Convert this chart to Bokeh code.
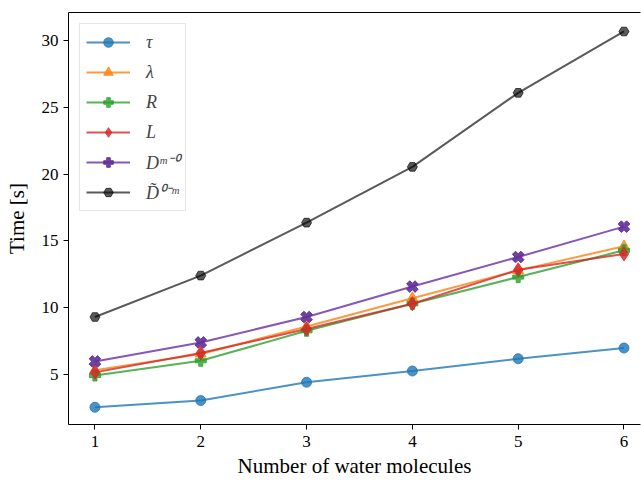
from bokeh.plotting import figure
from bokeh.models import Range1d, LinearAxis, Legend, LegendItem, FixedTicker, ColumnDataSource
from bokeh.embed import file_html
from bokeh.resources import INLINE

# ---- data ----
n_water = [1, 2, 3, 4, 5, 6]
tau = [2.56, 3.06, 4.43, 5.27, 6.19, 6.99]
lam = [5.32, 6.55, 8.60, 10.72, 12.80, 14.60]
R = [4.93, 6.04, 8.28, 10.30, 12.30, 14.30]
L = [5.17, 6.62, 8.41, 10.30, 12.84, 14.03]
D_m0 = [5.99, 7.41, 9.31, 11.59, 13.80, 16.07]
Dt_0m = [9.31, 12.41, 16.37, 20.54, 26.08, 30.67]

labels = ["τ", "λ", "R", "L", "Dᵐ⁻⁰", "D̃⁰⁻ᵐ"]
x_ticks = [1, 2, 3, 4, 5, 6]
y_ticks = [5, 10, 15, 20, 25, 30]

series = [tau, lam, R, L, D_m0, Dt_0m]
line_colors = ["#1f77b4", "#ff7f0e", "#2ca02c", "#d62728", "#7a45b0", "#000000"]
mark_colors = ["#1f77b4", "#ff7f0e", "#2ca02c", "#d62728", "#5e2d96", "#000000"]
alphas = [0.8, 0.8, 0.8, 0.8, 0.9, 0.65]
markers = ["circle", "triangle", "plus", "diamond", "plus", "hex"]
angles = [0, 0, 0, 0, 0.785398, 0]
sizes = [10, 11, 11, 14, 12, 10]

FONT = "Liberation Serif"

p = figure(width=641, height=480, output_backend="svg", toolbar_location=None,
           x_range=Range1d(0.75, 6.156), y_range=Range1d(1.27, 32.09),
           min_border_left=68, min_border_right=1, min_border_top=12, min_border_bottom=55)

p.grid.visible = False
p.outline_line_color = None
p.background_fill_color = "white"
p.border_fill_color = "white"

p.xaxis.ticker = FixedTicker(ticks=x_ticks)
p.yaxis.ticker = FixedTicker(ticks=y_ticks)
for ax in (p.xaxis, p.yaxis):
    ax.minor_tick_line_color = None
    ax.major_tick_out = 5
    ax.major_tick_in = 0
    ax.axis_line_color = "black"
    ax.major_tick_line_color = "black"
    ax.major_label_text_font = FONT
    ax.major_label_text_font_size = "17px"
    ax.major_label_text_color = "black"
    ax.axis_label_text_font = FONT
    ax.axis_label_text_font_size = "21px"
    ax.axis_label_text_font_style = "normal"
    ax.axis_label_text_color = "black"

p.xaxis.axis_label = "Number of water molecules"
p.yaxis.axis_label = "Time [s]"
p.xaxis.major_label_standoff = 6
p.xaxis.axis_label_standoff = 4
p.yaxis.major_label_standoff = 5
p.yaxis.axis_label_standoff = 10

top = LinearAxis(ticker=FixedTicker(ticks=[]), major_label_text_font_size="0px",
                 major_tick_line_color=None, minor_tick_line_color=None,
                 axis_line_color="black", major_tick_out=0, major_label_standoff=0)
p.add_layout(top, "above")

items = []
for vals, lc, mc, a, mk, ang, sz, lab in zip(series, line_colors, mark_colors, alphas,
                                              markers, angles, sizes, labels):
    src = ColumnDataSource(dict(x=n_water, y=vals))
    ln = p.line("x", "y", source=src, line_color=lc, line_alpha=a, line_width=2)
    sc = p.scatter("x", "y", source=src, marker=mk, angle=ang, size=sz,
                   fill_color=mc, fill_alpha=a, line_color=mc, line_alpha=a, line_width=1)
    items.append(LegendItem(label=lab, renderers=[ln, sc]))

legend = Legend(items=items, location="top_left", margin=11, padding=6, spacing=6,
                glyph_width=44, glyph_height=24, label_height=24, label_standoff=16,
                label_text_font=FONT, label_text_font_style="italic", label_text_font_size="18px",
                border_line_color="#cccccc", border_line_width=1,
                background_fill_color="white", background_fill_alpha=0.8)
p.add_layout(legend)

open("out.html", "w").write(file_html(p, INLINE))
